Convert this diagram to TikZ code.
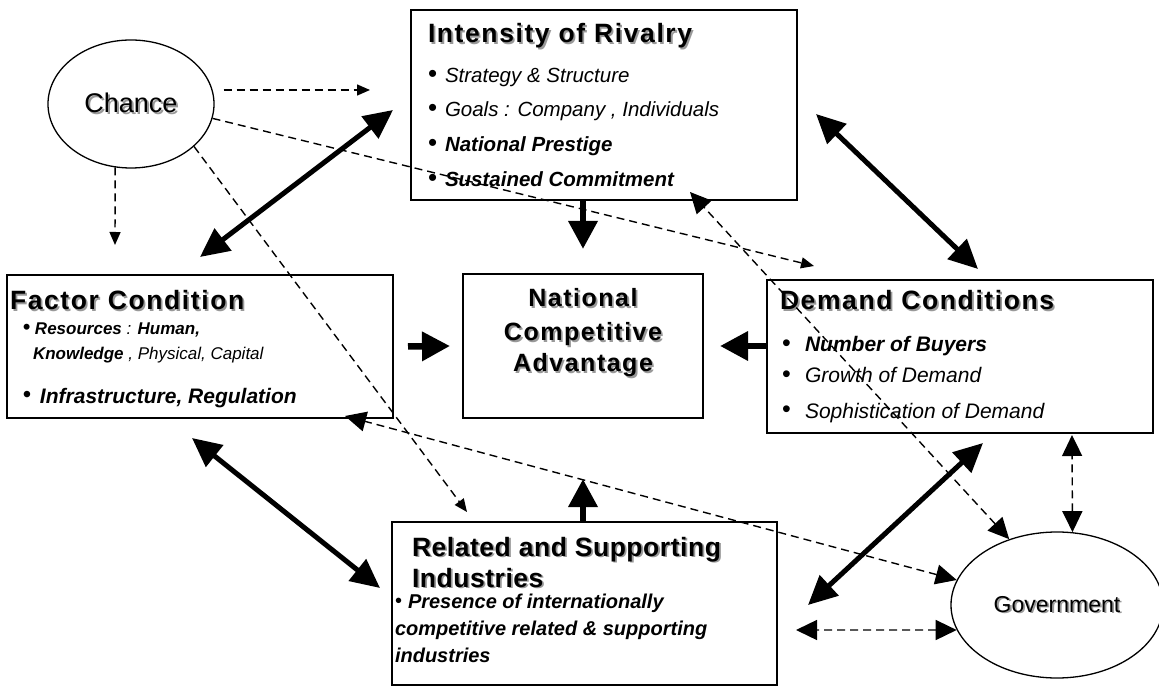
\documentclass[tikz,border=0pt]{standalone}
\usepackage{fontspec}
\setmainfont{Liberation Sans}
\newfontfamily\ttlfont[LetterSpace=6]{Liberation Sans}
\newfontfamily\rsfont[LetterSpace=2]{Liberation Sans}
\usetikzlibrary{arrows.meta,shapes.geometric,calc}
\newcommand\shd[1]{\makebox[0pt][l]{\hspace{1.8pt}\raisebox{-1.8pt}{\textcolor{black!40}{#1}}}#1}
\newcommand\bul[1]{{\upshape\mdseries\fontsize{#1}{#1}\selectfont\raisebox{0.5pt}{\smash{•}}}}
\newcommand\itm[3]{\makebox[#1][l]{\bul{#2}}#3}
\begin{document}
\begin{tikzpicture}[x=1pt,y=-1pt,
  box/.style={draw, line width=2pt, fill=white, inner sep=0pt, outer sep=0pt, anchor=north west},
  ell/.style={draw, ellipse, line width=1.3pt, inner sep=0pt, fill=white},
  tx/.style={inner sep=0pt, outer sep=0pt, anchor=base west},
  ctx/.style={inner sep=0pt, outer sep=0pt, anchor=base},
  fatarrow/.style={line width=5pt, {Triangle[length=29pt,width=27pt]}-{Triangle[length=29pt,width=27pt]}},
  fatone/.style={line width=6.5pt, -{Triangle[length=28pt,width=28pt]}},
  dsh/.style={line width=1.4pt, dash pattern=on 8pt off 5pt},
  dshone/.style={dsh, -{Triangle[length=13pt,width=11pt]}},
  dshtwo/.style={dsh, {Triangle[length=21pt,width=20pt]}-{Triangle[length=21pt,width=20pt]}}
]
\useasboundingbox (0,0) rectangle (1159,692);

% boxes
\node[box, minimum width=386pt, minimum height=190pt] (ir) at (411,10) {};
\node[box, minimum width=386pt, minimum height=143pt] (fc) at (7,275) {};
\node[box, minimum width=240pt, minimum height=144pt] (nca) at (463,274) {};
\node[box, minimum width=386pt, minimum height=153pt] (dc) at (767,280) {};
\node[box, minimum width=385pt, minimum height=163pt] (rs) at (392,522) {};
\node[ell, minimum width=166pt, minimum height=128pt] (chance) at (131,104) {\fontsize{27}{30}\selectfont\shd{Chance}};
\node[ell, minimum width=212pt, minimum height=146pt] (gov) at (1057,605) {\fontsize{23}{26}\selectfont\shd{Government}};

% Intensity of Rivalry
\node[tx] (irT) at (428,43) {\ttlfont\bfseries\fontsize{26.5}{30}\selectfont\shd{Intensity of Rivalry}};
\node[tx] (ir1) at (428,83) {\fontsize{20.5}{24}\selectfont\itm{17pt}{26}{\itshape Strategy \& Structure}};
\node[tx] (ir2) at (428,117) {\fontsize{20.5}{24}\selectfont\itm{17pt}{26}{\itshape Goals : Company , Individuals}};
\node[tx] (ir3) at (428,152) {\fontsize{20.5}{24}\selectfont\itm{17pt}{26}{\bfseries\itshape National Prestige}};
\node[tx] (ir4) at (428,187) {\fontsize{20.5}{24}\selectfont\itm{17pt}{26}{\bfseries\itshape Sustained Commitment}};

% Factor Condition
\node[tx] (fcT) at (10,310) {\ttlfont\bfseries\fontsize{26.5}{30}\selectfont\shd{Factor Condition}};
\node[tx] (fc1) at (23,335) {\fontsize{17}{20}\selectfont\itm{12pt}{22}{{\bfseries\itshape Resources}{\itshape\ : }{\bfseries\itshape Human,}}};
\node[tx] (fc2) at (33,360) {\fontsize{17}{20}\selectfont{\bfseries\itshape Knowledge}{\itshape\ , Physical, Capital}};
\node[tx] (fc3) at (23,403) {\fontsize{21}{24}\selectfont\itm{17pt}{24}{\bfseries\itshape Infrastructure, Regulation}};

% National Competitive Advantage
\node[ctx] (n1) at (583,307) {\ttlfont\bfseries\fontsize{25}{28}\selectfont\shd{National}};
\node[ctx] (n2) at (583,341) {\ttlfont\bfseries\fontsize{25}{28}\selectfont\shd{Competitive}};
\node[ctx] (n3) at (583,372) {\ttlfont\bfseries\fontsize{25}{28}\selectfont\shd{Advantage}};

% Demand Conditions
\node[tx] (dcT) at (780,310) {\ttlfont\bfseries\fontsize{26.5}{30}\selectfont\shd{Demand Conditions}};
\node[tx] (dc1) at (782,352) {\fontsize{21}{24}\selectfont\itm{23pt}{25}{\bfseries\itshape Number of Buyers}};
\node[tx] (dc2) at (782,383) {\fontsize{21}{24}\selectfont\itm{23pt}{25}{\itshape Growth of Demand}};
\node[tx] (dc3) at (782,418) {\fontsize{21}{24}\selectfont\itm{23pt}{25}{\itshape Sophistication of Demand}};

% Related and Supporting Industries
\node[tx] (rsT1) at (412,556) {\rsfont\bfseries\fontsize{26.5}{30}\selectfont\shd{Related and Supporting}};
\node[tx] (rsT2) at (412,587) {\rsfont\bfseries\fontsize{26.5}{30}\selectfont\shd{Industries}};
\node[tx] (rs1) at (395,608) {\fontsize{20}{24}\selectfont\itm{13pt}{20}{\bfseries\itshape Presence of internationally}};
\node[tx] (rs2) at (395,635) {\fontsize{20}{24}\selectfont\bfseries\itshape competitive related \& supporting};
\node[tx] (rs3) at (395,662) {\fontsize{20}{24}\selectfont\bfseries\itshape industries};

% connector end points
\coordinate (a1) at (393,110); \coordinate (a2) at (200,257);
\coordinate (b1) at (816,114); \coordinate (b2) at (978,269);
\coordinate (c1) at (192,438); \coordinate (c2) at (380,588);
\coordinate (d1) at (983,443); \coordinate (d2) at (808,605);
\coordinate (ch1) at (370,90);
\coordinate (ch2) at (115,245);
\coordinate (ch3) at (814,266);
\coordinate (ch4) at (467,512);
\coordinate (g1) at (690,192);
\coordinate (g2) at (345,416);
\coordinate (g3) at (796,630);
\coordinate (g4) at (1072,435);

% thick arrows
\draw[fatarrow] (a1) -- (a2);
\draw[fatarrow] (b1) -- (b2);
\draw[fatarrow] (c1) -- (c2);
\draw[fatarrow] (d1) -- (d2);
\draw[fatone] (ir.south -| nca.north) -- ($(nca.north)+(0,-25)$);
\draw[fatone] ($(fc.east)+(15,0)$) -- ($(nca.west)+(-13,0)$);
\draw[fatone] (dc.west |- nca.east) -- ($(nca.east)+(17,0)$);
\draw[fatone] (rs.north -| nca.south) -- ($(nca.south)+(0,61)$);

% dashed arrows from Chance
\draw[dshone] ($(chance.east)+(9,-14)$) -- (ch1);
\draw[dshone] (chance.-104) -- (ch2);
\draw[dshone] (chance.-10) -- (ch3);
\draw[dshone] (chance.-34) -- (ch4);

% dashed arrows to Government
\draw[dshtwo] (gov.126) -- (g1);
\draw[dshtwo] (gov.166) -- (g2);
\draw[dshtwo] (gov.194) -- (g3);
\draw[dshtwo] (gov.78) -- (g4);
\end{tikzpicture}
\end{document}
